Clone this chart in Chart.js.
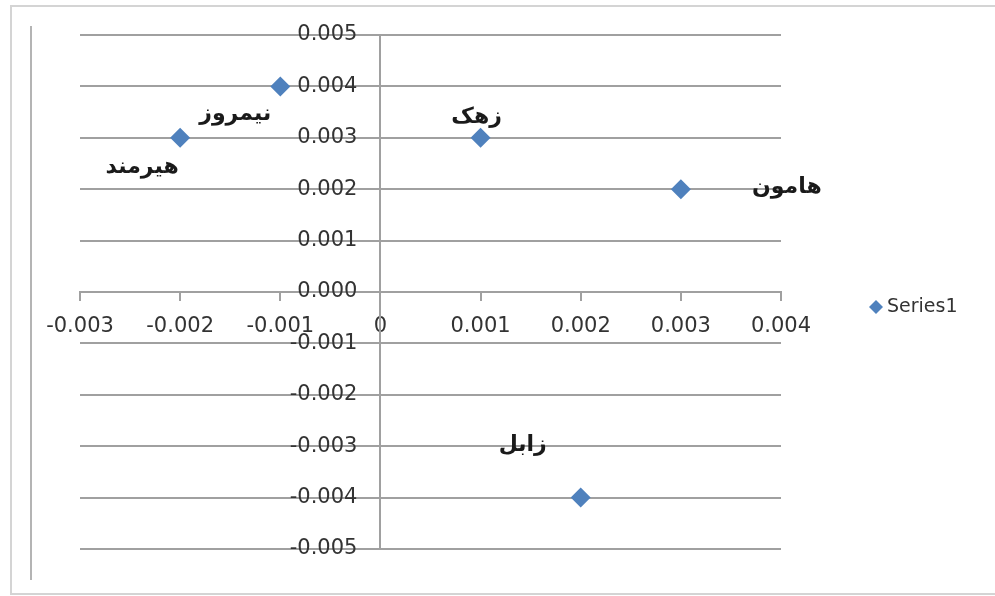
<!DOCTYPE html>
<html>
<head>
<meta charset="utf-8">
<script src="https://cdn.jsdelivr.net/npm/chart.js@4/dist/chart.umd.min.js"></script>
<style>
  html, body { margin: 0; padding: 0; background: #fff; }
  #wrap { width: 995px; height: 596px; }
</style>
</head>
<body>
<div id="wrap"><canvas id="chart" width="995" height="596"></canvas></div>
<script>
// data
const names = ["هیرمند", "نیمروز", "زهک", "هامون", "زابل"];
const xValues = [-0.002, -0.001, 0.001, 0.003, 0.002];
const yValues = [0.003, 0.004, 0.003, 0.002, -0.004];
const seriesName = "Series1";

const xTicks = [-0.003, -0.002, -0.001, 0, 0.001, 0.002, 0.003, 0.004];
const xTickLabels = ["-0.003", "-0.002", "-0.001", "0", "0.001", "0.002", "0.003", "0.004"];
const yTicks = [-0.005, -0.004, -0.003, -0.002, -0.001, 0, 0.001, 0.002, 0.003, 0.004, 0.005];
const yTickLabels = ["-0.005", "-0.004", "-0.003", "-0.002", "-0.001", "0.000", "0.001", "0.002", "0.003", "0.004", "0.005"];

// where each name sits relative to its point (px)
const labelOffsets = [[-38, 29], [-45, 28], [-4, -21], [106, -2], [-58, -52]];

const markerColor = "#4f81bd";
const gridColor = "#a0a0a0";
const textColor = "#333333";
const tickFont = { family: "'DejaVu Sans'", size: 21 };

const framePlugin = {
  id: "frame",
  beforeDraw(chart) {
    const ctx = chart.ctx;
    ctx.save();
    ctx.fillStyle = "#fff";
    ctx.fillRect(0, 0, chart.width, chart.height);
    // outer border
    ctx.strokeStyle = "#d4d4d4";
    ctx.lineWidth = 2;
    ctx.beginPath();
    ctx.moveTo(995, 6);
    ctx.lineTo(11, 6);
    ctx.lineTo(11, 594);
    ctx.lineTo(995, 594);
    ctx.stroke();
    // inner left edge
    ctx.strokeStyle = "#b4b4b4";
    ctx.beginPath();
    ctx.moveTo(31, 26);
    ctx.lineTo(31, 580);
    ctx.stroke();
    ctx.restore();
  },
  afterDatasetsDraw(chart) {
    const ctx = chart.ctx;
    const xs = chart.scales.x, ys = chart.scales.y;
    ctx.save();
    // y tick labels sit left of the crossing axis
    ctx.font = "21px 'DejaVu Sans'";
    ctx.fillStyle = textColor;
    ctx.textAlign = "right";
    ctx.textBaseline = "middle";
    const axisX = xs.getPixelForValue(0);
    yTicks.forEach((v, i) => {
      ctx.fillText(yTickLabels[i], axisX - 23, ys.getPixelForValue(v));
    });
    // point names
    const meta = chart.getDatasetMeta(0);
    ctx.font = "bold 22px 'DejaVu Sans'";
    ctx.fillStyle = "#1a1a1a";
    ctx.textAlign = "center";
    meta.data.forEach((pt, i) => {
      ctx.fillText(names[i], pt.x + labelOffsets[i][0], pt.y + labelOffsets[i][1]);
    });
    // legend
    const lx = 876, ly = 307, r = 7;
    ctx.fillStyle = markerColor;
    ctx.beginPath();
    ctx.moveTo(lx, ly - r);
    ctx.lineTo(lx + r, ly);
    ctx.lineTo(lx, ly + r);
    ctx.lineTo(lx - r, ly);
    ctx.closePath();
    ctx.fill();
    ctx.font = "19px 'DejaVu Sans'";
    ctx.fillStyle = textColor;
    ctx.textAlign = "left";
    ctx.fillText(chart.data.datasets[0].label, 887, ly);
    ctx.restore();
  }
};

new Chart(document.getElementById("chart").getContext("2d"), {
  type: "scatter",
  data: {
    datasets: [{
      label: seriesName,
      data: xValues.map((x, i) => ({ x: x, y: yValues[i] })),
      pointStyle: "rectRot",
      pointRadius: 10,
      pointHoverRadius: 10,
      backgroundColor: markerColor,
      borderColor: markerColor,
      borderWidth: 0
    }]
  },
  options: {
    responsive: false,
    animation: false,
    layout: { padding: { left: 80, right: 214, top: 35, bottom: 47 } },
    plugins: {
      legend: { display: false },
      tooltip: { enabled: false }
    },
    scales: {
      x: {
        type: "linear",
        min: -0.003,
        max: 0.004,
        position: { y: 0 },
        afterBuildTicks: (scale) => { scale.ticks = xTicks.map((v) => ({ value: v })); },
        grid: { drawOnChartArea: false, drawTicks: true, tickLength: 8, color: gridColor, lineWidth: 2 },
        border: { color: gridColor, width: 2 },
        ticks: {
          callback: (v, i) => xTickLabels[i],
          font: tickFont,
          color: textColor,
          padding: 14,
          maxRotation: 0,
          autoSkip: false
        }
      },
      y: {
        type: "linear",
        min: -0.005,
        max: 0.005,
        position: { x: 0 },
        afterBuildTicks: (scale) => { scale.ticks = yTicks.map((v) => ({ value: v })); },
        grid: { color: gridColor, lineWidth: 2, drawTicks: false },
        border: { color: gridColor, width: 2 },
        ticks: { display: false }
      }
    }
  },
  plugins: [framePlugin]
});
</script>
</body>
</html>
